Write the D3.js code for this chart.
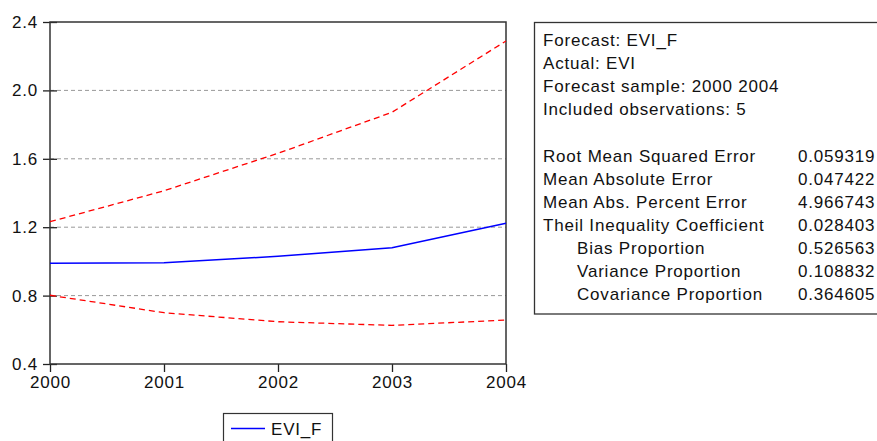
<!DOCTYPE html>
<html>
<head>
<meta charset="utf-8">
<script src="https://cdn.jsdelivr.net/npm/d3@7"></script>
<style>
  body { margin: 0; background: #fff; }
  text { font-family: "Liberation Sans", Arial, sans-serif; font-size: 17px; fill: #111; letter-spacing: 0.8px; }
</style>
</head>
<body>
<script>
// years on the x axis
const years = [2000, 2001, 2002, 2003, 2004];
// forecast EVI_F and its +/- 2 S.E. band
const forecast = [0.989, 0.992, 1.03, 1.08, 1.223];
const upper = [1.232, 1.413, 1.632, 1.872, 2.289];
const lower = [0.802, 0.70, 0.647, 0.626, 0.657];
const yTicks = [0.4, 0.8, 1.2, 1.6, 2.0, 2.4];

// forecast evaluation table
const statsHeader = ['Forecast: EVI_F', 'Actual: EVI', 'Forecast sample: 2000 2004', 'Included observations: 5'];
const statsNames = ['Root Mean Squared Error', 'Mean Absolute Error', 'Mean Abs. Percent Error',
  'Theil Inequality Coefficient', 'Bias Proportion', 'Variance Proportion', 'Covariance Proportion'];
const statsValues = ['0.059319', '0.047422', '4.966743', '0.028403', '0.526563', '0.108832', '0.364605'];
const statsIndent = [false, false, false, false, true, true, true];

const svg = d3.select('body').append('svg')
  .attr('width', 877)
  .attr('height', 441);

const plotL = 50, plotR = 506, plotT = 22, plotB = 364;

const x = d3.scaleLinear().domain([2000, 2004]).range([plotL, plotR]);
const y = d3.scaleLinear().domain([0.4, 2.4]).range([plotB, plotT]);

// grid lines
svg.append('g')
  .selectAll('line')
  .data(yTicks.filter(d => d > 0.4 && d < 2.4))
  .enter().append('line')
  .attr('x1', plotL).attr('x2', plotR)
  .attr('y1', d => y(d)).attr('y2', d => y(d))
  .attr('stroke', '#999')
  .attr('stroke-width', 1)
  .attr('stroke-dasharray', '4,3');

// y axis
const yAxis = svg.append('g')
  .attr('transform', `translate(${plotL},0)`)
  .call(d3.axisLeft(y).tickValues(yTicks).tickFormat(d3.format('.1f')).tickSize(7).tickPadding(5));
yAxis.selectAll('.tick line').attr('x2', 7).attr('x1', -7);

// x axis
const xAxis = svg.append('g')
  .attr('transform', `translate(0,${plotB})`)
  .call(d3.axisBottom(x).tickValues(years).tickFormat(d3.format('d')).tickSize(8).tickPadding(4));

[yAxis, xAxis].forEach(a => {
  a.select('.domain').remove();
  a.selectAll('.tick line').attr('stroke', '#222').attr('stroke-width', 1.3);
  a.selectAll('text').attr('font-size', null).attr('font-family', null).attr('fill', '#111');
});

// frame
svg.append('rect')
  .attr('x', plotL).attr('y', plotT)
  .attr('width', plotR - plotL).attr('height', plotB - plotT)
  .attr('fill', 'none')
  .attr('stroke', '#333')
  .attr('stroke-width', 1.5);

const line = d3.line().x((d, i) => x(years[i])).y(d => y(d));

[upper, lower].forEach(s => {
  svg.append('path')
    .attr('d', line(s))
    .attr('fill', 'none')
    .attr('stroke', '#ff0000')
    .attr('stroke-width', 1.3)
    .attr('stroke-dasharray', '6,4');
});

svg.append('path')
  .attr('d', line(forecast))
  .attr('fill', 'none')
  .attr('stroke', '#0000ff')
  .attr('stroke-width', 1.5);

// legend
const leg = svg.append('g');
leg.append('rect')
  .attr('x', 223.5).attr('y', 413.5)
  .attr('width', 109).attr('height', 40)
  .attr('fill', '#fff')
  .attr('stroke', '#333')
  .attr('stroke-width', 1.2);
leg.append('line')
  .attr('x1', 231).attr('x2', 265)
  .attr('y1', 428.5).attr('y2', 428.5)
  .attr('stroke', '#0000ff')
  .attr('stroke-width', 1.3);
leg.append('text')
  .attr('x', 271).attr('y', 434.5)
  .text('EVI_F');

// stats box
const box = svg.append('g');
box.append('rect')
  .attr('x', 534.5).attr('y', 22.5)
  .attr('width', 360).attr('height', 291.5)
  .attr('fill', '#fff')
  .attr('stroke', '#333')
  .attr('stroke-width', 1.3);

const rowY = i => 46 + i * 23.1;
box.selectAll('text.hdr')
  .data(statsHeader)
  .enter().append('text')
  .attr('class', 'hdr')
  .attr('x', 543)
  .attr('y', (d, i) => rowY(i))
  .text(d => d);

box.selectAll('text.name')
  .data(statsNames)
  .enter().append('text')
  .attr('class', 'name')
  .attr('x', (d, i) => statsIndent[i] ? 577 : 543)
  .attr('y', (d, i) => rowY(i + 5))
  .text(d => d);

box.selectAll('text.val')
  .data(statsValues)
  .enter().append('text')
  .attr('class', 'val')
  .attr('x', 798)
  .attr('y', (d, i) => rowY(i + 5))
  .text(d => d);
</script>
</body>
</html>
